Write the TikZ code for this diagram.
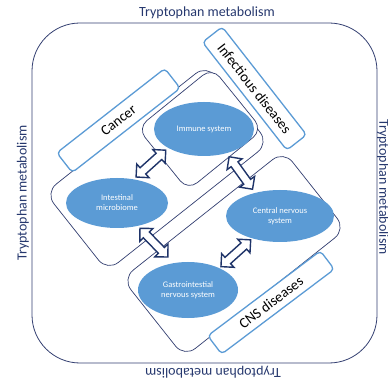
\documentclass[tikz,border=0pt]{standalone}
\usepackage{fontspec}
\setmainfont{Carlito}
\usetikzlibrary{shapes.geometric,shapes.arrows}
\definecolor{titlenavy}{RGB}{38,56,110}
\definecolor{bandline}{RGB}{50,62,112}
\definecolor{organblue}{RGB}{91,155,213}
\definecolor{arrownavy}{RGB}{31,52,105}

\begin{document}
\begin{tikzpicture}[x=1pt,y=-1pt,
    band/.style={draw=bandline,fill=white,line width=0.7pt,rounded corners=14pt,rotate=38.4,minimum width=206pt,minimum height=100pt},
    organ/.style={ellipse,fill=organblue,text=white,align=center,inner sep=0pt,minimum width=102pt,minimum height=54pt,font=\fontsize{8.5}{10}\selectfont},
    disease/.style={draw=organblue,fill=white,line width=1.3pt,rounded corners=4pt,minimum width=137pt,minimum height=25pt,inner sep=0pt,font=\fontsize{14.5}{16}\selectfont},
    title/.style={text=titlenavy,inner sep=0pt,font=\fontsize{14}{16}\selectfont},
    link/.style={double arrow,draw=arrownavy,fill=white,line width=1.4pt,minimum height=40pt,inner xsep=0pt,inner ysep=3.5pt,double arrow head extend=5pt}]
    \clip (0,0) rectangle (388,379);
    \node[draw=bandline,line width=0.8pt,rounded corners=48pt,minimum width=345pt,minimum height=340pt] (frame) at (204.5,193) {};
    \node[title] (ttop) at (207,13) {Tryptophan metabolism};
    \node[title,rotate=90] (tleft) at (23,193) {Tryptophan metabolism};
    \node[title,rotate=-90] (tright) at (383,187) {Tryptophan metabolism};
    \node[title,rotate=180] (tbottom) at (213,372) {Tryptophan metabolism};
    \node[band] (bandA) at (157,168) {};
    \node[band] (bandB) at (234,254) {};
    \node[band,rotate=0.6,minimum width=96pt,minimum height=80pt,rounded corners=12pt] (immbox) at (200,129) {};
    \node[organ,minimum width=100pt] (immune) at (204,129) {Immune system};
    \node[organ,minimum height=50pt] (intest) at (117,203) {Intestinal\\microbiome};
    \node[organ,minimum width=108pt,minimum height=52pt] (central) at (280,216) {Central nervous\\system};
    \node[organ,minimum width=100pt,minimum height=56pt] (gastro) at (188,290) {Gastrointestial\\nervous system};
    \node[disease,rotate=38] (cancer) at (118.5,120.5) {Cancer};
    \node[disease,rotate=-52] (infect) at (254.5,88.5) {Infectious diseases};
    \node[disease,rotate=37,minimum width=141pt,minimum height=23pt] (cns) at (271,302.5) {CNS diseases};
    \path (intest.55) -- (immune.208) node[link,sloped,pos=.5] (ar1) {};
    \path (immune.313) -- (central.137) node[link,sloped,pos=.5] (ar2) {};
    \path (intest.312) -- (gastro.118) node[link,sloped,pos=.45] (ar3) {};
    \path (gastro.35) -- (central.219) node[link,sloped,pos=.5] (ar4) {};
\end{tikzpicture}
\end{document}
